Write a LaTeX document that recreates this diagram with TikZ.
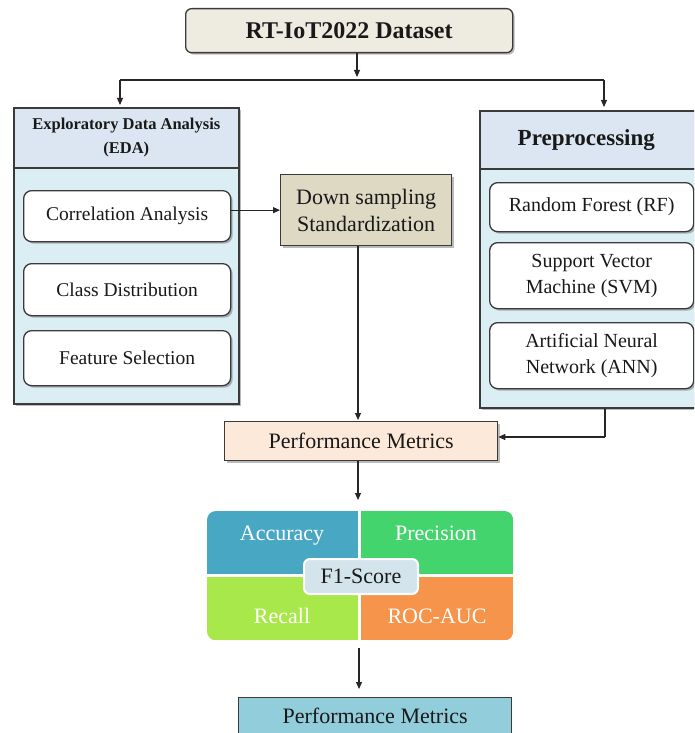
\documentclass[tikz,border=0pt]{standalone}
\usepackage{fontspec}
\setmainfont{Liberation Serif}
\usetikzlibrary{arrows.meta,shadows}
\definecolor{topfill}{HTML}{EEECE1}
\definecolor{hdrfill}{HTML}{DCE6F2}
\definecolor{bodyfill}{HTML}{DAEEF3}
\definecolor{tanfill}{HTML}{DDD9C3}
\definecolor{peach}{HTML}{FDE9D9}
\definecolor{pm2fill}{HTML}{92CDDC}
\definecolor{accc}{HTML}{48A8C4}
\definecolor{prec}{HTML}{44D46E}
\definecolor{recc}{HTML}{A9E84B}
\definecolor{rocc}{HTML}{F5944A}
\definecolor{f1fill}{HTML}{D3E4EC}
\definecolor{edge}{HTML}{3A3A3A}
\begin{document}
\begin{tikzpicture}[x=1pt,y=-1pt,
  box/.style={draw=edge, line width=1.3pt, align=center, inner sep=0pt, text=black!90, anchor=north west},
  shd/.style={drop shadow={shadow xshift=2pt,shadow yshift=-2pt,opacity=0.45,fill=black!60}},
  inner/.style={box, rounded corners=8pt, fill=white, shd, font=\fontsize{19.5}{26}\selectfont},
  arr/.style={-{Triangle[length=7pt,width=6pt]}, line width=1.1pt, draw=black!85},
  ln/.style={line width=1.1pt, draw=black!85},
  quad/.style={text=white, anchor=base, inner sep=0pt, font=\fontsize{22}{26}\selectfont}
]
\useasboundingbox (0,0) rectangle (694,733);
\clip (0,0) rectangle (694,733);

% top
\node[box, rounded corners=6pt, fill=topfill, shd, minimum width=327pt, minimum height=44pt,
  font=\fontsize{24}{28}\selectfont\bfseries] (ds) at (185,8) {RT-IoT2022 Dataset};

% EDA container
\node[box, fill=hdrfill, shd, line width=1.6pt, minimum width=225pt, minimum height=60pt,
  font=\fontsize{16.5}{24}\selectfont\bfseries] (edah) at (13,107) {Exploratory Data Analysis\\(EDA)};
\node[box, fill=bodyfill, shd, line width=1.6pt, minimum width=225pt, minimum height=236pt] (edab) at (13,167) {};
\node[inner, minimum width=207pt, minimum height=51pt] (corr) at (23,190) {Correlation Analysis};
\node[inner, minimum width=207pt, minimum height=52pt] (cls) at (23,263) {Class Distribution};
\node[inner, minimum width=207pt, minimum height=55pt] (feat) at (23,330) {Feature Selection};

% Down sampling
\node[box, fill=tanfill, shd, minimum width=171pt, minimum height=71pt,
  font=\fontsize{22}{27}\selectfont] (dsamp) at (280,174) {Down sampling\\Standardization};

% Preprocessing container
\node[box, fill=hdrfill, shd, line width=1.6pt, minimum width=225pt, minimum height=58pt,
  font=\fontsize{23}{28}\selectfont\bfseries] (preh) at (479,110) {\hspace*{-6pt}Preprocessing\hspace*{6pt}};
\node[box, fill=bodyfill, shd, line width=1.6pt, minimum width=225pt, minimum height=239pt] (preb) at (479,168) {};
\node[inner, minimum width=204pt, minimum height=49pt, font=\fontsize{20}{26}\selectfont] (rf) at (489,182) {Random Forest (RF)};
\node[inner, minimum width=204pt, minimum height=66pt, font=\fontsize{20}{26}\selectfont] (svm) at (489,242) {Support Vector\\Machine (SVM)};
\node[inner, minimum width=204pt, minimum height=66pt, font=\fontsize{20}{26}\selectfont] (ann) at (489,322) {Artificial Neural\\Network (ANN)};

% Performance metrics 1
\node[box, fill=peach, shd, minimum width=273pt, minimum height=39pt,
  font=\fontsize{22}{26}\selectfont] (pm1) at (224,421) {Performance Metrics};

% grid
\node[anchor=north west, inner sep=0pt, minimum width=306pt, minimum height=129pt] (grid) at (207,511) {};
\begin{scope}
  \clip[rounded corners=9pt] (grid.north west) rectangle (grid.south east);
  \fill[accc] (207,511) rectangle (358,574);
  \fill[prec] (360.5,511) rectangle (513,574);
  \fill[recc] (207,577) rectangle (358,640);
  \fill[rocc] (360.5,577) rectangle (513,640);
\end{scope}
\node[quad] (acc) at (282,540) {Accuracy};
\node[quad] (pre) at (436,540) {Precision};
\node[quad] (rec) at (282,623) {Recall};
\node[quad] (roc) at (437,623) {ROC-AUC};
\node[anchor=north west, draw=white, line width=2pt, fill=f1fill, rounded corners=6pt, inner sep=0pt,
  minimum width=114pt, minimum height=35pt, text=black!90, font=\fontsize{22}{26}\selectfont] (f1) at (303,558) {F1-Score};

% Performance metrics 2
\node[box, fill=pm2fill, minimum width=273pt, minimum height=37pt,
  font=\fontsize{22}{26}\selectfont] (pm2) at (238,697) {Performance Metrics};

% connectors
\coordinate (split) at (357,80);
\coordinate (hl) at (120,80);
\coordinate (hr) at (604,80);
\coordinate (pc) at (605,437);
\draw[arr, shorten >=3pt] (ds.south -| split) -- (split);
\draw[ln] (hl) -- (hr);
\draw[arr, shorten >=2pt] (hl) -- (hl |- edah.north);
\draw[arr, shorten >=3pt] (hr) -- (hr |- preh.north);
\draw[arr] (corr.east |- dsamp.west) -- (dsamp.west);
\draw[arr, shorten >=1pt] (dsamp.south -| 358,0) -- (pm1.north -| 358,0);
\draw[ln] (pc |- preb.south) -- (pc);
\draw[arr] (pc) -- (pm1.east |- pc);
\draw[arr, shorten >=11pt] (pm1.south -| 358,0) -- (grid.north -| 358,0);
\draw[arr, shorten <=8pt, shorten >=8pt] (grid.south -| 359,0) -- (pm2.north -| 359,0);
\end{tikzpicture}
\end{document}
